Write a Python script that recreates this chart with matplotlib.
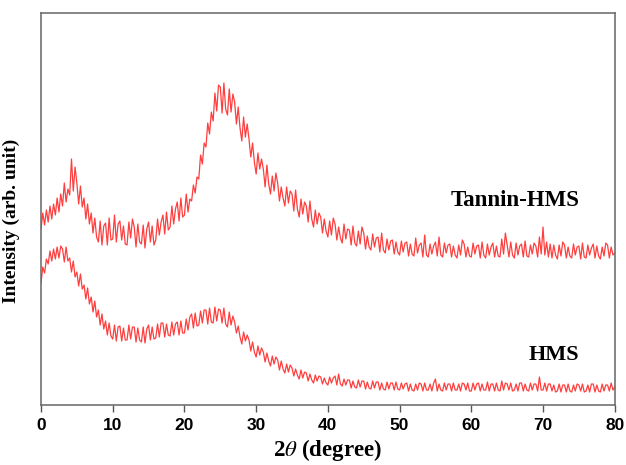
import numpy as np
import matplotlib
matplotlib.use('Agg')
import matplotlib.pyplot as plt

# 2-theta grid, 0.25 degree step (0..80); one row per degree
two_theta = np.arange(0, 80.25, 0.25)

tannin_hms = [
    176, 192, 180, 195,  183, 199, 186, 201,  190, 207, 193, 211,
    199, 222, 203, 216,  210, 246, 214, 238,  222, 201, 219, 198,
    207, 186, 201, 181,  192, 172, 187, 168,  163, 184, 160, 179,
    182, 160, 187, 165,  166, 190, 163, 181,  184, 165, 179, 161,
    160, 183, 167, 186,  178, 158, 181, 163,  161, 180, 157, 176,
    183, 163, 179, 160,  165, 186, 170, 183,  190, 171, 193, 175,
    178, 199, 181, 196,  203, 184, 207, 188,  190, 211, 193, 206,
    204, 220, 212, 228,  226, 250, 241, 262,  258, 282, 271, 293,
    284, 312, 294, 320,  318, 292, 322, 296,  290, 316, 293, 311,
    303, 281, 298, 277,  264, 288, 268, 281,  266, 248, 262, 243,
    231, 252, 236, 246,  236, 218, 240, 221,  211, 229, 214, 232,
    222, 204, 218, 207,  199, 218, 202, 214,  211, 194, 215, 196,
    188, 206, 191, 203,  199, 183, 204, 186,  178, 195, 181, 192,
    188, 172, 186, 174,  168, 184, 170, 187,  181, 165, 178, 167,
    162, 181, 166, 176,  175, 160, 179, 162,  159, 174, 161, 178,
    172, 156, 169, 158,  155, 171, 158, 167,  168, 153, 172, 155,
    152, 166, 155, 164,  165, 151, 163, 153,  150, 164, 153, 162,
    163, 149, 161, 151,  149, 167, 152, 160,  162, 148, 170, 150,
    148, 161, 151, 159,  163, 149, 168, 150,  148, 162, 152, 160,
    161, 148, 159, 150,  147, 160, 150, 165,  161, 148, 158, 149,
    148, 162, 151, 159,  160, 147, 163, 150,  147, 161, 150, 158,
    162, 148, 159, 149,  148, 166, 151, 172,  160, 148, 163, 150,
    147, 162, 150, 159,  161, 148, 164, 149,  148, 160, 151, 162,
    159, 148, 168, 151,  178, 150, 163, 148,  161, 147, 160, 150,
    146, 160, 149, 163,  160, 147, 158, 149,  147, 161, 150, 158,
    159, 146, 162, 148,  147, 160, 150, 157,  161, 147, 159, 149,
    146, 158, 149, 162,  160, 147, 158, 150,
    152,
]

hms = [
    122, 138, 132, 146,  141, 154, 144, 156,  146, 158, 147, 159,
    156, 143, 158, 144,  147, 133, 144, 128,  133, 119, 131, 116,
    120, 106, 117, 101,  108, 93, 104, 88,  95, 80, 91, 76,
    84, 70, 82, 69,  66, 80, 64, 78,  79, 64, 77, 65,
    65, 80, 66, 78,  78, 63, 77, 65,  63, 78, 62, 76,
    80, 65, 78, 66,  67, 81, 68, 82,  82, 68, 81, 70,
    69, 83, 70, 81,  83, 70, 84, 72,  72, 86, 75, 88,
    91, 77, 92, 79,  80, 94, 82, 95,  95, 81, 97, 83,
    82, 98, 84, 96,  95, 82, 97, 81,  78, 93, 80, 89,
    83, 72, 79, 68,  61, 73, 64, 70,  65, 54, 63, 53,
    48, 59, 50, 57,  53, 43, 52, 44,  39, 49, 41, 48,
    45, 35, 44, 36,  32, 41, 33, 40,  37, 29, 36, 30,
    26, 35, 27, 33,  32, 24, 31, 25,  22, 30, 24, 29,
    28, 21, 27, 22,  20, 28, 22, 27,  29, 20, 31, 21,
    19, 26, 20, 25,  25, 17, 24, 18,  17, 25, 18, 24,
    24, 16, 23, 17,  16, 24, 17, 23,  23, 15, 22, 16,
    15, 23, 16, 22,  22, 15, 23, 16,  15, 22, 16, 21,
    22, 14, 21, 15,  14, 21, 15, 22,  21, 14, 22, 15,
    15, 21, 14, 22,  26, 14, 21, 15,  14, 22, 15, 21,
    21, 14, 22, 15,  15, 21, 14, 22,  21, 15, 22, 14,
    14, 22, 15, 21,  22, 14, 21, 15,  15, 23, 14, 21,
    21, 14, 22, 15,  14, 24, 15, 22,  21, 15, 22, 14,
    15, 21, 14, 22,  22, 14, 21, 15,  14, 22, 15, 21,
    21, 14, 28, 15,  15, 22, 14, 21,  21, 14, 20, 13,
    14, 21, 13, 20,  20, 13, 21, 14,  13, 20, 14, 21,
    20, 14, 21, 13,  14, 20, 13, 21,  21, 13, 20, 14,
    13, 21, 14, 20,  20, 14, 22, 15,
    18,
]

xticks = [0, 10, 20, 30, 40, 50, 60, 70, 80]

plt.rcParams['mathtext.fontset'] = 'stix'

fig = plt.figure(figsize=(6.26, 4.65), dpi=100)
ax = fig.add_axes([0.0655, 0.129, 0.9165, 0.843])

line_color = '#ff3e3e'
ax.plot(two_theta, tannin_hms, color=line_color, lw=0.9)
ax.plot(two_theta, hms, color=line_color, lw=0.9)

ax.set_xlim(0, 80)
ax.set_ylim(0, 392)
ax.set_xticks(xticks)
ax.set_xticklabels([str(t) for t in xticks],
                   fontdict={'family': 'Liberation Sans', 'weight': 'bold', 'size': 12.5})
ax.set_yticks([])
ax.tick_params(axis='x', direction='out', length=5, width=1, color='#555555', pad=4)

for s in ax.spines.values():
    s.set_color('#666666')
    s.set_linewidth(1.1)

ax.set_xlabel(r'2$\theta$ (degree)', family='Liberation Serif', weight='bold',
              fontsize=16.5, labelpad=3)
ax.set_ylabel('Intensity (arb. unit)', family='Liberation Serif', weight='bold',
              fontsize=14)
ax.yaxis.set_label_coords(-0.036, 0.47)

ax.text(66.1, 205, 'Tannin-HMS', family='Liberation Serif', weight='bold',
        fontsize=16.5, ha='center', va='center')
ax.text(71.5, 50, 'HMS', family='Liberation Serif', weight='bold',
        fontsize=16, ha='center', va='center')

plt.savefig('out.png', dpi=100)
